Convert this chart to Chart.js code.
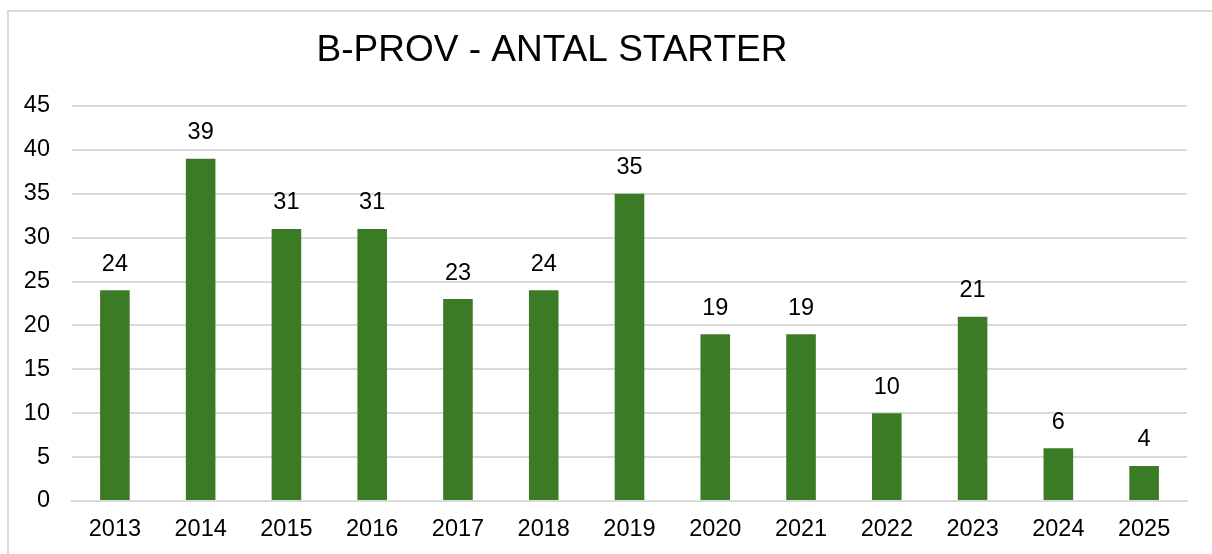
<!DOCTYPE html>
<html>
<head>
<meta charset="utf-8">
<script src="https://cdn.jsdelivr.net/npm/chart.js@4"></script>
<style>
  html, body { margin: 0; padding: 0; background: #fff; overflow: hidden; }
  #wrap { position: relative; width: 1212px; height: 554px; }
  #frame { position: absolute; left: 7px; top: 10px; width: 1300px; height: 700px; border: 2px solid #d9d9d9; box-sizing: border-box; }
  canvas { position: absolute; left: 0; top: 0; }
</style>
</head>
<body>
<div id="wrap">
  <div id="frame"></div>
  <canvas id="myChart" width="1212" height="554"></canvas>
</div>
<script>
const chartTitle = "B-PROV - ANTAL STARTER";
const years = ["2013", "2014", "2015", "2016", "2017", "2018", "2019", "2020", "2021", "2022", "2023", "2024", "2025"];
const starts = [24, 39, 31, 31, 23, 24, 35, 19, 19, 10, 21, 6, 4];
const yTicks = [0, 5, 10, 15, 20, 25, 30, 35, 40, 45];

const FONT = "'Liberation Sans', Arial, sans-serif";

// title + value labels drawn on the canvas
const labelPlugin = {
    id: "labels",
    afterDatasetsDraw(chart) {
        let ctx = chart.ctx;
        ctx.save();
        ctx.fillStyle = "#000";
        ctx.textAlign = "center";
        ctx.textBaseline = "middle";
        ctx.font = "23.5px " + FONT;
        chart.getDatasetMeta(0).data.forEach((bar, i) => {
            ctx.fillText(String(starts[i]), bar.x, bar.y - 26);
        });
        ctx.font = "37px " + FONT;
        ctx.fillText(chartTitle, 552, 51);
        ctx.restore();
    }
};

let ctx = document.getElementById("myChart").getContext("2d");
let myChart = new Chart(ctx, {
    type: "bar",
    data: {
        labels: years,
        datasets: [{
            label: chartTitle,
            data: starts,
            backgroundColor: "#3c7b26",
            categoryPercentage: 1.0,
            barPercentage: 0.345,
        }],
    },
    options: {
        responsive: false,
        animation: false,
        devicePixelRatio: 1,
        layout: { padding: { top: 106, right: 25, bottom: 0, left: 0 } },
        plugins: {
            legend: { display: false },
            title: { display: false },
            tooltip: { enabled: false },
        },
        scales: {
            x: {
                grid: { display: false, drawTicks: false },
                border: { display: true, color: "#d9d9d9", width: 2 },
                ticks: { color: "#000", font: { family: FONT, size: 23.5 }, padding: 14, maxRotation: 0 },
                afterFit(scale) { scale.height = 53; },
            },
            y: {
                min: 0,
                max: 45,
                afterBuildTicks(scale) { scale.ticks = yTicks.map(v => ({ value: v })); },
                grid: { color: "#d9d9d9", lineWidth: 2, drawTicks: false },
                border: { display: false },
                ticks: { color: "#000", font: { family: FONT, size: 23.5 }, padding: 22 },
                afterFit(scale) { scale.width = 72; },
            },
        },
    },
    plugins: [labelPlugin],
});
</script>
</body>
</html>
